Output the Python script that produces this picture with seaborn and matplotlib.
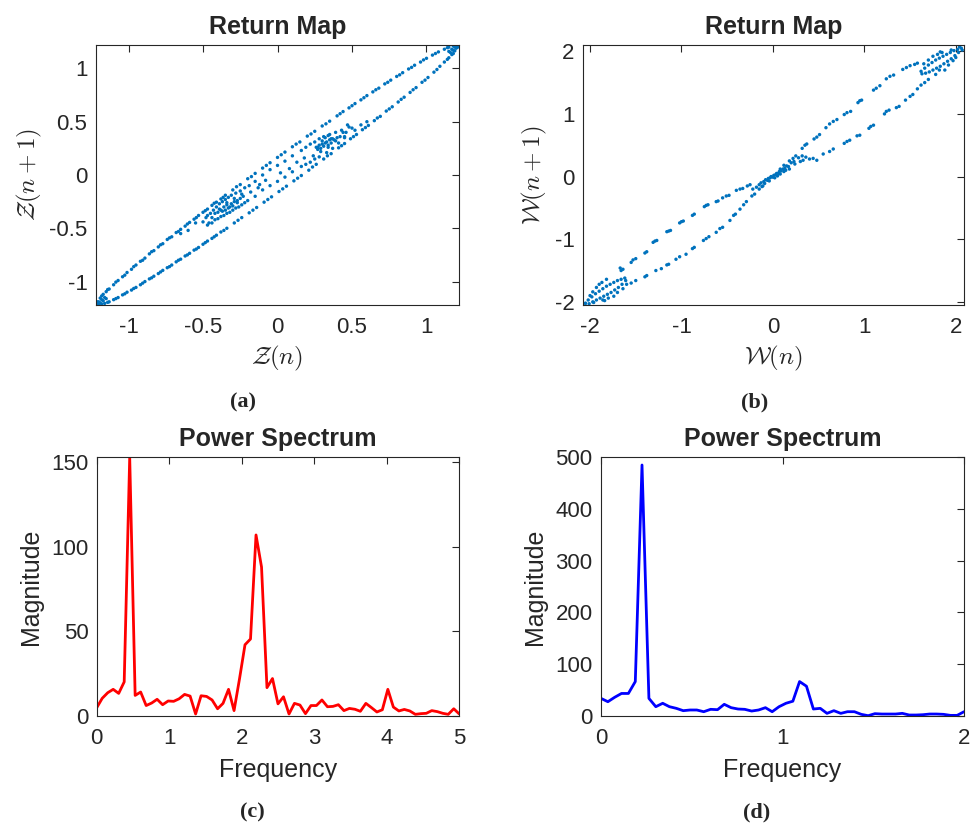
import numpy as np
import pandas as pd
import seaborn as sns
import matplotlib.pyplot as plt
from matplotlib.ticker import FuncFormatter

# ---- return map Z: outer ellipse, upper branch
za_up_x = [-1.21, -1.19, -1.17, -1.15, -1.13, -1.10, -1.07, -1.04, -1.01, -0.98, -0.95, -0.92, -0.89, -0.86,
           -0.83, -0.80, -0.77, -0.74, -0.71, -0.68, -0.65, -0.62, -0.59, -0.56, -0.53, -0.50, -0.47, -0.44,
           -0.41, -0.38, -0.35, -0.30, -0.25, -0.20, -0.15, -0.10, -0.05, 0.00, 0.05, 0.10, 0.15, 0.20, 0.25,
           0.30, 0.35, 0.40, 0.44, 0.48, 0.52, 0.56, 0.60, 0.64, 0.68, 0.72, 0.76, 0.80, 0.84, 0.88, 0.92,
           0.96, 1.00, 1.04, 1.08, 1.12, 1.15, 1.18, 1.20,
           -1.18, -1.14, -1.085, -1.025, -0.965, -0.905, -0.845, -0.785, -0.725, -0.665, -0.605, -0.545,
           -0.485, -0.425, -0.365, -0.275, -0.175, -0.075, 0.025, 0.125, 0.225, 0.325, 0.42, 0.50, 0.58,
           0.66, 0.74, 0.82, 0.90, 0.98, 1.06, 1.14]
za_up_y = [-1.19, -1.155, -1.12, -1.095, -1.07, -1.03, -0.99, -0.955, -0.915, -0.885, -0.845, -0.81, -0.78,
           -0.74, -0.71, -0.675, -0.645, -0.605, -0.58, -0.54, -0.51, -0.48, -0.445, -0.415, -0.38, -0.35,
           -0.32, -0.285, -0.255, -0.225, -0.19, -0.14, -0.09, -0.035, 0.015, 0.065, 0.115, 0.165, 0.215,
           0.265, 0.31, 0.365, 0.41, 0.46, 0.505, 0.555, 0.595, 0.63, 0.67, 0.705, 0.745, 0.78, 0.815, 0.855,
           0.89, 0.925, 0.96, 0.995, 1.03, 1.06, 1.095, 1.125, 1.155, 1.18, 1.20, 1.21, 1.215,
           -1.135, -1.075, -1.005, -0.94, -0.86, -0.80, -0.72, -0.655, -0.59, -0.53, -0.46, -0.40,
           -0.335, -0.265, -0.21, -0.11, -0.015, 0.09, 0.19, 0.29, 0.385, 0.48, 0.575, 0.65, 0.725,
           0.80, 0.87, 0.94, 1.01, 1.08, 1.14, 1.195]

# outer ellipse, lower branch
za_lo_x = [-1.20, -1.18, -1.16, -1.13, -1.10, -1.07, -1.04, -1.01, -0.98, -0.95, -0.92, -0.89, -0.86, -0.83,
           -0.80, -0.77, -0.74, -0.71, -0.68, -0.65, -0.62, -0.59, -0.56, -0.53, -0.50, -0.47, -0.44, -0.41,
           -0.38, -0.34, -0.29, -0.24, -0.19, -0.14, -0.09, -0.04, 0.01, 0.06, 0.11, 0.16, 0.21, 0.26, 0.31,
           0.36, 0.41, 0.45, 0.49, 0.53, 0.57, 0.61, 0.65, 0.69, 0.73, 0.77, 0.81, 0.85, 0.89, 0.93, 0.97,
           1.01, 1.05, 1.09, 1.12, 1.15, 1.17, 1.19, 1.21,
           -1.14, -1.085, -1.025, -0.965, -0.905, -0.845, -0.785, -0.725, -0.665, -0.605, -0.545, -0.485,
           -0.425, -0.36, -0.265, -0.165, -0.065, 0.035, 0.135, 0.235, 0.335, 0.43, 0.51, 0.59, 0.67, 0.75,
           0.83, 0.91, 0.99, 1.07, 1.14, 1.18]
za_lo_y = [-1.215, -1.21, -1.205, -1.19, -1.17, -1.15, -1.125, -1.10, -1.08, -1.055, -1.03, -1.00, -0.975,
           -0.95, -0.925, -0.895, -0.87, -0.845, -0.815, -0.79, -0.76, -0.735, -0.705, -0.68, -0.65, -0.62,
           -0.595, -0.565, -0.535, -0.50, -0.45, -0.40, -0.355, -0.305, -0.255, -0.205, -0.155, -0.105,
           -0.055, -0.005, 0.045, 0.10, 0.15, 0.20, 0.255, 0.295, 0.34, 0.38, 0.425, 0.465, 0.51, 0.55, 0.60,
           0.64, 0.685, 0.73, 0.775, 0.82, 0.87, 0.915, 0.965, 1.02, 1.06, 1.10, 1.13, 1.165, 1.20,
           -1.195, -1.16, -1.115, -1.065, -1.015, -0.965, -0.91, -0.86, -0.80, -0.75, -0.695, -0.635,
           -0.58, -0.52, -0.425, -0.33, -0.23, -0.13, -0.03, 0.075, 0.18, 0.275, 0.36, 0.445, 0.535, 0.62,
           0.71, 0.80, 0.89, 0.99, 1.085, 1.14]

# dense corners and inner lobes
za_in_x = [-1.21, -1.20, -1.19, -1.18, -1.17, -1.16, -1.15, 1.21, 1.20, 1.19, 1.18, 1.17, 1.16, 1.15, 1.20,
           -0.50, -0.47, -0.45, -0.43, -0.41, -0.39, -0.37, -0.35, -0.33, -0.31, -0.28, -0.25, -0.22, -0.19,
           -0.47, -0.44, -0.42, -0.40, -0.38, -0.36, -0.34, -0.32, -0.30, -0.28, -0.26, -0.24, -0.22, -0.20,
           -0.36, -0.34, -0.33, -0.31, -0.29, -0.38, -0.40, -0.27, -0.30, -0.35, -0.25, -0.23,
           -0.15, -0.10, -0.05, 0.00, 0.05, 0.10, -0.15, -0.10, -0.05, 0.00, 0.05, 0.10, -0.08, 0.02, 0.08, -0.12,
           0.50, 0.47, 0.45, 0.43, 0.41, 0.39, 0.37, 0.35, 0.33, 0.31, 0.28, 0.28, 0.25, 0.25, 0.22, 0.22,
           0.19, 0.19, 0.16, 0.16, 0.36, 0.34, 0.33, 0.31, 0.29, 0.38, 0.40, 0.27, 0.30, 0.35, 0.32, 0.34,
           0.30, 0.36, 0.28, 0.26, 0.45, 0.52, 0.56, 0.60, -0.55, -0.60, -0.65,
           -0.44, -0.39, -0.34, -0.29, -0.24, -0.32, -0.27, -0.42, -0.37, 0.44, 0.39, 0.34, 0.29, 0.24,
           0.32, 0.27, 0.42, 0.37, -0.18, -0.13, 0.13, 0.18, 0.46, 0.48, -0.48, -0.46]
za_in_y = [-1.21, -1.19, -1.20, -1.17, -1.18, -1.15, -1.16, 1.21, 1.19, 1.20, 1.17, 1.18, 1.15, 1.16, 1.20,
           -0.44, -0.38, -0.36, -0.33, -0.30, -0.27, -0.25, -0.23, -0.21, -0.19, -0.17, -0.15, -0.12, -0.10,
           -0.47, -0.45, -0.42, -0.41, -0.39, -0.38, -0.36, -0.35, -0.33, -0.31, -0.30, -0.28, -0.26, -0.24,
           -0.30, -0.28, -0.31, -0.27, -0.25, -0.33, -0.35, -0.24, -0.29, -0.33, -0.22, -0.20,
           -0.06, 0.00, 0.05, 0.09, 0.13, 0.18, -0.20, -0.14, -0.10, -0.06, -0.02, 0.03, -0.05, 0.02, 0.06, -0.09,
           0.44, 0.47, 0.36, 0.42, 0.30, 0.40, 0.25, 0.38, 0.21, 0.36, 0.17, 0.34, 0.15, 0.31, 0.12, 0.29,
           0.10, 0.26, 0.08, 0.23, 0.30, 0.28, 0.31, 0.27, 0.25, 0.33, 0.35, 0.24, 0.29, 0.33, 0.35, 0.37,
           0.32, 0.34, 0.28, 0.26, 0.35, 0.42, 0.47, 0.50, -0.45, -0.52, -0.55,
           -0.40, -0.32, -0.26, -0.22, -0.18, -0.30, -0.26, -0.36, -0.34, 0.40, 0.32, 0.26, 0.22, 0.18,
           0.30, 0.26, 0.36, 0.34, -0.16, -0.12, 0.12, 0.16, 0.40, 0.45, -0.40, -0.45]

# ---- return map W
wb_ll_x = [-1.61, -1.65, -1.69, -1.73, -1.77, -1.81, -1.85, -1.89, -1.93, -1.97, -2.01, -2.05,
           -1.62, -1.66, -1.70, -1.74, -1.78, -1.82, -1.86, -1.90, -1.94, -1.98, -2.02,
           -1.74, -1.80, -1.86, -1.93, -1.97, -2.00, -1.87, -1.70, -1.64, -2.05, -2.07, -1.96, -1.84, -1.90, -1.82]
wb_ll_y = [-1.66, -1.72, -1.77, -1.81, -1.85, -1.88, -1.91, -1.94, -1.97, -2.00, -2.03, -2.06,
           -1.62, -1.64, -1.66, -1.69, -1.72, -1.75, -1.79, -1.83, -1.87, -1.92, -1.97,
           -1.91, -1.94, -1.97, -1.77, -1.84, -1.90, -1.69, -1.85, -1.79, -2.02, -2.07, -2.01, -1.98, -1.72, -1.64]
wb_ur_x = [1.62, 1.66, 1.70, 1.74, 1.78, 1.82, 1.86, 1.90, 1.94, 1.98, 2.02, 2.06,
           1.63, 1.67, 1.71, 1.75, 1.79, 1.83, 1.87, 1.91, 1.95, 1.99, 2.03,
           1.75, 1.80, 1.85, 1.92, 1.97, 2.00, 1.88, 1.70, 1.65, 2.04, 2.07, 1.95, 1.83]
wb_ur_y = [1.68, 1.73, 1.78, 1.82, 1.86, 1.89, 1.92, 1.95, 1.98, 2.01, 2.03, 2.05,
           1.64, 1.65, 1.67, 1.70, 1.73, 1.76, 1.80, 1.84, 1.88, 1.93, 1.98,
           1.92, 1.95, 1.98, 1.78, 1.85, 1.90, 1.70, 1.86, 1.80, 2.07, 2.02, 2.02, 1.99]
wb_br_x = [-1.67, -1.66, -1.64, -1.55, -1.53, -1.50, -1.40, -1.38, -1.31, -1.29, -1.27, -1.16, -1.14, -1.12,
           -1.02, -1.00, -0.98, -0.88, -0.86, -0.75, -0.73, -0.71, -0.62, -0.60, -0.55, -0.51, -0.48, -0.40,
           -0.36, -0.33, -0.28, -0.25,
           -1.60, -1.55, -1.50, -1.40, -1.38, -1.28, -1.22, -1.16, -1.14, -1.06, -1.02, -0.95, -0.88, -0.86,
           -0.76, -0.73, -0.70, -0.62, -0.58, -0.55, -0.47, -0.43, -0.41, -0.36, -0.32, -0.29, -0.23, -0.20,
           -0.15, -0.11,
           0.08, 0.12, 0.18, 0.22, 0.25, 0.32, 0.35, 0.37, 0.45, 0.48, 0.51, 0.58, 0.62, 0.66, 0.70, 0.78,
           0.81, 0.85, 0.93, 0.95, 0.97, 1.10, 1.13, 1.17, 1.24, 1.28, 1.32, 1.42, 1.46, 1.50, 1.55, 1.58,
           0.12, 0.18, 0.24, 0.30, 0.33, 0.40, 0.44, 0.48, 0.55, 0.62, 0.66, 0.78, 0.81, 0.84, 0.92, 0.95,
           1.05, 1.07, 1.10, 1.22, 1.24, 1.27, 1.35, 1.38, 1.45, 1.50, 1.53, 1.58, 1.62, 1.66, 1.70, 1.78, 1.82]
wb_br_y = [-1.46, -1.50, -1.48, -1.37, -1.33, -1.31, -1.22, -1.20, -1.05, -1.03, -1.02, -0.88, -0.87, -0.86,
           -0.74, -0.72, -0.71, -0.62, -0.60, -0.48, -0.46, -0.45, -0.40, -0.39, -0.34, -0.31, -0.30, -0.22,
           -0.20, -0.19, -0.15, -0.13,
           -1.72, -1.70, -1.66, -1.60, -1.58, -1.50, -1.47, -1.41, -1.40, -1.32, -1.28, -1.24, -1.15, -1.13,
           -1.02, -0.99, -0.96, -0.89, -0.83, -0.81, -0.70, -0.62, -0.60, -0.52, -0.45, -0.40, -0.31, -0.28,
           -0.20, -0.15,
           0.12, 0.18, 0.25, 0.29, 0.33, 0.45, 0.50, 0.52, 0.60, 0.63, 0.67, 0.78, 0.84, 0.88, 0.91, 0.99,
           1.02, 1.04, 1.18, 1.21, 1.22, 1.38, 1.41, 1.45, 1.56, 1.60, 1.62, 1.71, 1.74, 1.77, 1.79, 1.81,
           0.08, 0.12, 0.20, 0.24, 0.26, 0.28, 0.29, 0.26, 0.36, 0.40, 0.44, 0.53, 0.56, 0.58, 0.65, 0.66,
           0.77, 0.80, 0.82, 1.00, 1.04, 1.06, 1.10, 1.12, 1.22, 1.28, 1.31, 1.40, 1.46, 1.50, 1.55, 1.63, 1.70]
wb_c_x = [-0.22, -0.18, -0.15, -0.13, -0.10, -0.08, -0.06, -0.05, -0.03, -0.02, 0.00, 0.01, 0.03, 0.04, 0.06,
          0.07, 0.09, 0.11, 0.13, 0.15, 0.17, 0.20, 0.23, -0.12, -0.09, -0.04, 0.02, 0.05, 0.08, 0.14, 0.28,
          0.32, 0.36]
wb_c_y = [-0.20, -0.17, -0.13, -0.10, -0.08, -0.05, -0.06, -0.03, -0.02, 0.00, -0.01, 0.02, 0.03, 0.05, 0.05,
          0.08, 0.09, 0.12, 0.13, 0.17, 0.16, 0.22, 0.24, -0.16, -0.11, -0.07, -0.02, 0.01, 0.04, 0.10, 0.30,
          0.33, 0.31]

# ---- power spectra
freq_c = [0.000, 0.076, 0.152, 0.227, 0.303, 0.379, 0.455, 0.530, 0.606, 0.682, 0.758, 0.833, 0.909, 0.985,
          1.061, 1.136, 1.212, 1.288, 1.364, 1.439, 1.515, 1.591, 1.667, 1.742, 1.818, 1.894, 1.970, 2.045,
          2.121, 2.197, 2.273, 2.348, 2.424, 2.500, 2.576, 2.652, 2.727, 2.803, 2.879, 2.955, 3.030, 3.106,
          3.182, 3.258, 3.333, 3.409, 3.485, 3.561, 3.636, 3.712, 3.788, 3.864, 3.939, 4.015, 4.091, 4.167,
          4.242, 4.318, 4.394, 4.470, 4.545, 4.621, 4.697, 4.773, 4.848, 4.924, 5.000]
mag_c = [4.7, 10.3, 13.6, 15.6, 13.2, 20.0, 153.0, 12.0, 14.0, 6.0, 7.5, 9.7, 6.5, 8.7, 8.5, 10.0, 12.6,
         11.6, 1.0, 11.8, 11.4, 9.3, 4.1, 7.3, 15.6, 3.0, 22.0, 42.0, 45.4, 107.0, 88.0, 16.6, 22.0, 7.0,
         11.2, 1.0, 7.3, 6.3, 1.2, 6.0, 6.0, 9.3, 5.3, 5.5, 6.5, 3.0, 4.3, 3.8, 2.6, 7.3, 4.8, 2.2, 3.5, 15.6,
         5.1, 2.8, 3.7, 2.8, 0.8, 1.2, 1.4, 3.0, 2.4, 1.4, 0.8, 4.1, 1.0]
freq_d = [0.000, 0.038, 0.075, 0.113, 0.151, 0.189, 0.226, 0.264, 0.302, 0.340, 0.377, 0.415, 0.453, 0.491,
          0.528, 0.566, 0.604, 0.642, 0.679, 0.717, 0.755, 0.792, 0.830, 0.868, 0.906, 0.943, 0.981, 1.019,
          1.057, 1.094, 1.132, 1.170, 1.208, 1.245, 1.283, 1.321, 1.358, 1.396, 1.434, 1.472, 1.509, 1.547,
          1.585, 1.623, 1.660, 1.698, 1.736, 1.774, 1.811, 1.849, 1.887, 1.925, 1.962, 2.000]
mag_d = [33.5, 27.0, 35.5, 43.0, 43.0, 66.0, 485.0, 33.5, 17.4, 24.0, 17.4, 14.2, 9.7, 11.0, 11.0, 7.7, 12.3,
         11.6, 22.0, 15.5, 12.9, 12.3, 9.0, 11.0, 15.5, 7.7, 17.4, 24.0, 28.0, 66.0, 57.0, 12.9, 14.2, 4.5, 9.7,
         4.5, 7.7, 7.7, 2.6, 0.0, 3.9, 3.2, 3.2, 3.2, 4.5, 1.3, 1.3, 1.9, 3.2, 3.2, 2.6, 0.6, 0.6, 7.7]

sns.set_style('white')
plt.rcParams['font.family'] = ['Liberation Sans', 'DejaVu Sans']
plt.rcParams['mathtext.fontset'] = 'cm'
plt.rcParams['axes.unicode_minus'] = False

dark = '#262626'
blue = '#0072BD'

fig = plt.figure(figsize=(9.72, 8.27), dpi=100)
ax_a = fig.add_axes([0.0985, 0.6312, 0.374, 0.3144])
ax_b = fig.add_axes([0.5995, 0.6312, 0.3923, 0.3144])
ax_c = fig.add_axes([0.0995, 0.1346, 0.373, 0.3125])
ax_d = fig.add_axes([0.6183, 0.1346, 0.3735, 0.3125])

# return maps
df_a = pd.DataFrame({'x': za_up_x + za_lo_x + za_in_x, 'y': za_up_y + za_lo_y + za_in_y})
df_b = pd.DataFrame({'x': wb_ll_x + wb_ur_x + wb_br_x + wb_c_x, 'y': wb_ll_y + wb_ur_y + wb_br_y + wb_c_y})
sns.scatterplot(data=df_a, x='x', y='y', s=6, color=blue, edgecolor='none', linewidth=0, ax=ax_a)
sns.scatterplot(data=df_b, x='x', y='y', s=6, color=blue, edgecolor='none', linewidth=0, ax=ax_b)

# spectra
sns.lineplot(x=freq_c, y=mag_c, color='red', linewidth=2, ax=ax_c)
sns.lineplot(x=freq_d, y=mag_d, color='blue', linewidth=2, ax=ax_d)

fmt = FuncFormatter(lambda v, p: '{:g}'.format(v))

ax_a.set_xlim(-1.22, 1.22)
ax_a.set_ylim(-1.22, 1.22)
ax_a.set_xticks([-1, -0.5, 0, 0.5, 1])
ax_a.set_yticks([-1, -0.5, 0, 0.5, 1])
ax_a.set_title('Return Map', fontsize=18, fontweight='bold', pad=8)
ax_a.set_xlabel(r'$\mathcal{Z}(n)$', fontsize=18, color=dark, labelpad=4)
ax_a.set_ylabel(r'$\mathcal{Z}(n+1)$', fontsize=18, color=dark, labelpad=4)

ax_b.set_xlim(-2.08, 2.09)
ax_b.set_ylim(-2.05, 2.1)
ax_b.set_xticks([-2, -1, 0, 1, 2])
ax_b.set_yticks([-2, -1, 0, 1, 2])
ax_b.set_title('Return Map', fontsize=18, fontweight='bold', pad=8)
ax_b.set_xlabel(r'$\mathcal{W}(n)$', fontsize=18, color=dark, labelpad=4)
ax_b.set_ylabel(r'$\mathcal{W}(n+1)$', fontsize=18, color=dark, labelpad=4)

ax_c.set_xlim(0, 5)
ax_c.set_ylim(0, 153)
ax_c.set_xticks([0, 1, 2, 3, 4, 5])
ax_c.set_yticks([0, 50, 100, 150])
ax_c.set_title('Power Spectrum', fontsize=18, fontweight='bold', pad=8)
ax_c.set_xlabel('Frequency', fontsize=18, color=dark, labelpad=6)
ax_c.set_ylabel('Magnitude', fontsize=18, color=dark, labelpad=6)

ax_d.set_xlim(0, 2)
ax_d.set_ylim(0, 500)
ax_d.set_xticks([0, 1, 2])
ax_d.set_yticks([0, 100, 200, 300, 400, 500])
ax_d.set_title('Power Spectrum', fontsize=18, fontweight='bold', pad=8)
ax_d.set_xlabel('Frequency', fontsize=18, color=dark, labelpad=6)
ax_d.set_ylabel('Magnitude', fontsize=18, color=dark, labelpad=6)

for ax in [ax_a, ax_b, ax_c, ax_d]:
    ax.xaxis.set_major_formatter(fmt)
    ax.yaxis.set_major_formatter(fmt)
    ax.tick_params(direction='in', top=True, right=True, length=5, width=0.8,
                   labelsize=16, colors=dark, labelcolor=dark)
    ax.tick_params(axis='x', pad=9)
    ax.tick_params(axis='y', pad=6)
    for sp in ax.spines.values():
        sp.set_visible(True)
        sp.set_color(dark)
        sp.set_linewidth(0.8)

# sub-figure letters
for lab, xx, yy in [('(a)', 0.250, 0.513), ('(b)', 0.776, 0.513), ('(c)', 0.260, 0.017), ('(d)', 0.778, 0.017)]:
    fig.text(xx, yy, lab, ha='center', va='center', fontsize=16, fontweight='bold',
             family=['Liberation Serif', 'DejaVu Serif'])

fig.savefig('out.png', dpi=100)
